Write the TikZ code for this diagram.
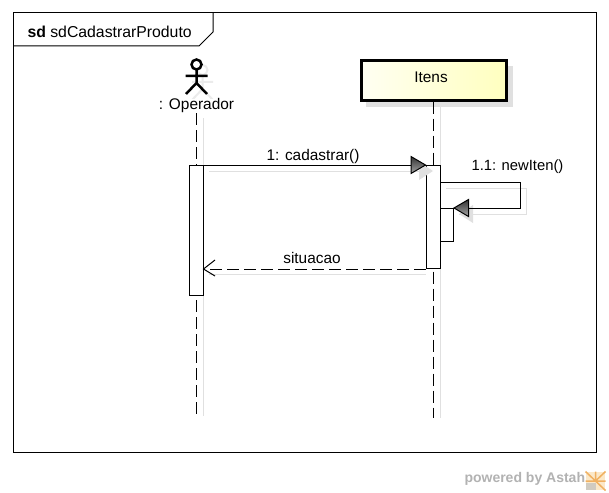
\documentclass[tikz,border=0pt]{standalone}
\usepackage{fontspec}
\setmainfont{Liberation Sans}
\usetikzlibrary{positioning}
\definecolor{shadowgray}{HTML}{E0E0E0}
\definecolor{logoorange}{HTML}{F0B060}
\definecolor{logopale}{HTML}{FBE8C8}

\begin{document}
\begin{tikzpicture}[
      x=1pt, y=-1pt,
      line width=1pt,
      every node/.style={font=\fontsize{15.4}{17}\selectfont, inner sep=0pt},
      activation/.style={rectangle, draw, fill=white, minimum width=14pt},
      lifeline/.style={draw, dash pattern=on 12pt off 5pt},
      lifeshadow/.style={draw=shadowgray},
      tiptriangle/.style={draw, top color=black!80, bottom color=black!35},
      tipshadow/.style={fill=shadowgray},
      stickman/.style={line width=2.5pt},
    ]
    \useasboundingbox (0,0) rectangle (609,492);
    \fill[white] (0,0) rectangle (609,492);

    % frame
    \draw (13,13) rectangle (596,452);
    \draw (13,46) -- (199,46) -- (213,32) -- (213,13);
    \node[anchor=west, font=\fontsize{15.8}{17}\selectfont] (frameLabel) at (27,31.5) {\textbf{sd} sdCadastrarProduto};

    % lifeline heads
    \fill[shadowgray] (366,66) rectangle (513,107);
    \node[rectangle, draw, line width=3pt, left color=yellow!5, right color=yellow!25,
      minimum width=145pt, minimum height=39pt] (itens) at (433.5,80.5) {};
    \node (itensLabel) at (431,77.5) {Itens};

    \draw[black!8, line width=2pt] (202.5,70) circle (5) (192,82) -- (213,82)
      (202.5,76) -- (202.5,89) (192,100) -- (202.5,89) -- (213,100);
    \draw[stickman, fill=white] (196.5,64.5) circle (5);
    \draw[stickman] (196.5,70) -- (196.5,83) (185.5,76) -- (207.5,76)
      (186,94) -- (196.5,83) -- (207,94);
    \node[fill=white] (operador) at (196.5,106) {: Operador};

    % lifelines
    \coordinate (operadorEnd) at (196.5,416);
    \coordinate (itensEnd) at (433,418);
    \draw[lifeshadow] (203,118) -- (203,416);
    \draw[lifeshadow] (440,107) -- (440,418);
    \draw[lifeline] (196.5,113) -- (operadorEnd);
    \draw[lifeline] (itens.south -| itensEnd) -- (itensEnd);

    % activations
    \node[activation, minimum height=130pt, anchor=north] (actOperador) at (196,165) {};
    \node[activation, minimum height=103pt, anchor=north] (actItens) at (433,165) {};
    \node[activation, minimum width=13pt, minimum height=33pt, anchor=north west] (actNew) at (440,208) {};

    % message shadows
    \draw[lifeshadow] (209,171) -- (426,171);
    \draw[lifeshadow] (446,188) -- (526,188) -- (526,214) -- (459,214);
    \draw[lifeshadow] (209,274) -- (426,274);
    \fill[tipshadow] (433,171) -- (419,162) -- (419,180) -- cycle;
    \fill[tipshadow] (459,214) -- (473,205) -- (473,223) -- cycle;

    % messages
    \draw (actOperador.north east) -- (actItens.north west);
    \shade[tiptriangle, shift={(actItens.north west)}] (0,0) -- (-14.5,-8.5) -- (-14.5,8.5) -- cycle;
    \node (msgCadastrar) at (313,156.5) {1: cadastrar()};

    \coordinate (selfStart) at (440,182);
    \coordinate (selfCorner) at (520.5,182);
    \draw (selfStart) -- (selfCorner) |- (actNew.north east);
    \shade[tiptriangle, shift={(actNew.north east)}] (0,0) -- (14.5,-8.5) -- (14.5,8.5) -- cycle;
    \node[font=\fontsize{14.8}{17}\selectfont] (msgNew) at (517.5,167) {1.1: newIten()};

    \draw[dash pattern=on 12pt off 5pt] (actItens.south west) -- (actOperador.east |- actItens.south);
    \draw (215,260) -- (actOperador.east |- actItens.south) -- (215,276);
    \node (msgSituacao) at (312,258) {situacao};

    % watermark
    \node[anchor=west, text=black!30, font=\fontsize{14}{16}\selectfont\bfseries] (powered) at (464,479) {powered by Astah};
    \node[rectangle, fill=logopale, minimum width=19pt, minimum height=18pt] (logo) at (595.5,481) {};
    \draw[logoorange, line width=1.5pt] (logo.center) -- (logo.north) (logo.center) -- (logo.north west)
      (logo.center) -- (logo.north east) (logo.center) -- (logo.west) (logo.center) -- (logo.east)
      (logo.center) -- (logo.south east);
    \fill[black!25, fill opacity=.7] (586,483) rectangle (596,490);
  \end{tikzpicture}
\end{document}
